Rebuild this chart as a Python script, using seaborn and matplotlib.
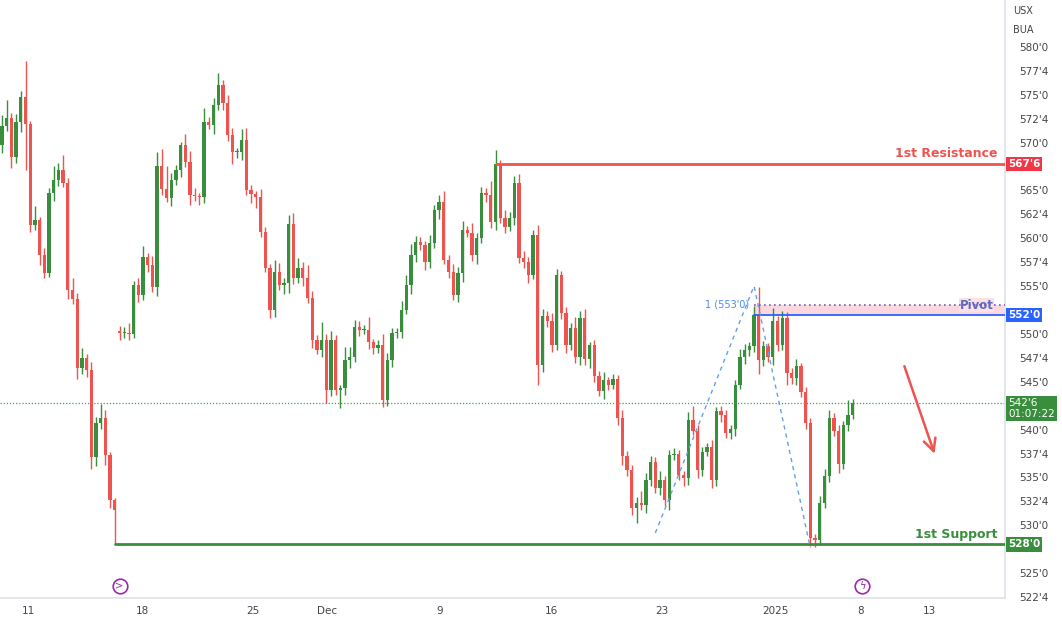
import numpy as np
import matplotlib
matplotlib.use("Agg")
import matplotlib.pyplot as plt
from matplotlib.ticker import FuncFormatter
import matplotlib.transforms as mtransforms
import seaborn as sns

sns.set_theme(style="white")

# Candle data (price), open = previous close unless a gap
first_open = 569.75
closes = [
    571.7, 572.6, 568.5, 572.1, 574.8, 571.9, 561.4, 561.9, 558.2, 556.4,
    564.7, 566.1, 567.1, 565.8, 554.6, 553.6, 546.4, 547.5, 546.2, 537.1,
    540.7, 541.2, 537.3, 532.6, 531.6, 550.1, 550.1, 550.0, 555.1, 554.1,
    558.0, 557.2, 554.9, 567.5, 565.1, 564.2, 566.1, 567.1, 569.7, 568.0,
    564.5, 564.4, 564.3, 572.1, 571.8, 573.9, 576.0, 574.1, 570.8, 569.0,
    569.0, 570.3, 565.0, 564.6, 564.3, 560.7, 556.9, 552.5, 556.5, 555.1,
    555.3, 561.5, 555.8, 556.9, 555.8, 553.8, 549.4, 548.3, 549.4, 544.1,
    549.4, 544.1, 544.3, 547.3, 547.6, 550.7, 550.4, 550.4, 549.2, 548.5,
    548.8, 543.1, 547.3, 550.1, 550.2, 552.5, 555.1, 558.2, 559.6, 559.3,
    557.5, 559.5, 562.9, 563.8, 557.7, 556.5, 554.1, 556.4, 560.9, 560.6,
    558.2, 560.0, 564.7, 564.5, 561.7, 567.8, 562.1, 561.2, 562.1, 565.8,
    557.9, 557.5, 556.2, 560.3, 546.8, 551.9, 551.3, 548.8, 556.2, 552.2,
    548.8, 550.6, 547.6, 551.7, 547.4, 548.8, 545.6, 544.0, 545.2, 544.7,
    545.3, 541.2, 537.2, 535.8, 531.8, 532.3, 532.1, 534.7, 536.6, 533.9,
    534.7, 532.6, 537.3, 537.4, 535.3, 534.9, 541.0, 539.9, 535.8, 537.7,
    538.2, 534.7, 541.9, 541.5, 539.6, 540.1, 544.7, 547.6, 548.3, 548.7,
    552.0, 547.3, 548.7, 547.6, 551.4, 548.8, 551.7, 545.9, 545.4, 546.6,
    543.9, 540.7, 528.7, 528.5, 532.3, 535.2, 541.2, 539.9, 536.4, 540.5,
    541.5, 542.75,
]
gap_opens = {25: 550.3}
upper_wick = [
    1.2, 1.8, 0.5, 0.9, 0.6, 3.7, 0.4, 1.5, 0.3, 0.8,
    0.6, 1.4, 0.8, 1.6, 0.5, 1.2, 0.7, 1.0, 0.4, 0.9,
    0.6, 1.5, 0.8, 0.4, 0.3, 0.5, 0.6, 1.0, 0.4, 0.7,
    1.2, 0.5, 0.9, 1.5, 1.8, 2.5, 0.7, 0.6, 0.4, 1.2,
    1.1, 0.8, 0.3, 1.5, 0.6, 0.8, 1.3, 0.5, 0.9, 0.7,
    0.4, 1.1, 1.2, 0.6, 0.3, 0.8, 0.5, 0.4, 1.2, 0.9,
    0.5, 0.9, 1.1, 1.0, 0.6, 1.4, 0.7, 0.5, 1.8, 0.6,
    0.9, 0.5, 0.4, 1.3, 1.0, 0.8, 0.6, 0.5, 1.4, 0.3,
    0.6, 1.2, 0.7, 0.5, 0.4, 0.9, 1.1, 1.2, 0.6, 0.5,
    0.4, 0.8, 0.6, 0.7, 1.1, 0.5, 0.8, 0.6, 0.9, 0.4,
    1.0, 0.6, 0.7, 0.5, 1.5, 1.4, 0.4, 0.8, 0.6, 0.7,
    0.9, 0.8, 0.5, 0.6, 1.1, 0.7, 0.5, 0.9, 0.6, 0.4,
    0.6, 0.5, 1.2, 0.7, 0.9, 0.4, 0.6, 0.5, 0.8, 0.3,
    0.5, 0.4, 0.9, 0.6, 0.5, 0.7, 1.3, 0.8, 0.6, 0.5,
    1.0, 0.4, 0.6, 0.7, 0.5, 0.4, 0.8, 1.5, 0.6, 0.5,
    0.4, 0.7, 0.5, 0.6, 0.6, 0.4, 0.5, 0.8, 0.6, 0.5,
    0.9, 2.9, 0.6, 0.4, 1.3, 0.5, 0.7, 0.6, 0.5, 0.8,
    0.4, 0.6, 0.5, 0.4, 0.8, 0.7, 0.9, 0.5, 0.6, 0.4,
    1.6, 0.4,
]
lower_wick = [
    0.8, 0.5, 1.2, 0.6, 1.0, 4.8, 0.7, 0.5, 1.0, 0.6,
    0.5, 0.8, 0.6, 0.4, 0.9, 0.5, 1.1, 0.6, 0.7, 1.2,
    0.9, 0.6, 1.0, 0.8, 3.6, 0.7, 0.5, 0.6, 0.4, 0.8,
    0.6, 0.7, 0.5, 0.9, 0.6, 0.4, 0.8, 0.5, 0.7, 0.6,
    1.0, 0.5, 0.8, 0.6, 0.4, 0.9, 0.5, 0.7, 0.6, 1.2,
    0.6, 0.8, 0.5, 0.9, 1.1, 0.6, 0.4, 0.8, 0.7, 0.5,
    0.9, 1.0, 0.6, 0.5, 0.8, 0.6, 0.9, 0.4, 0.7, 1.3,
    0.6, 0.5, 1.8, 0.7, 0.9, 0.5, 0.6, 0.4, 0.8, 0.6,
    0.5, 0.7, 0.6, 0.8, 0.5, 0.6, 0.4, 0.9, 0.7, 0.5,
    0.8, 0.6, 0.5, 0.9, 0.4, 0.7, 0.6, 0.8, 1.0, 0.5,
    0.6, 0.9, 0.5, 0.7, 0.6, 0.8, 0.5, 0.6, 0.4, 0.7,
    0.5, 0.6, 0.9, 0.5, 2.1, 0.8, 0.6, 0.7, 0.5, 0.6,
    0.8, 0.5, 0.6, 0.9, 0.7, 1.0, 0.6, 0.5, 0.8, 0.6,
    0.5, 0.7, 0.9, 0.6, 0.7, 1.6, 0.5, 0.8, 0.6, 0.5,
    0.7, 0.6, 1.0, 0.5, 0.6, 0.8, 0.7, 0.5, 0.9, 0.6,
    0.5, 0.8, 0.6, 0.7, 0.5, 0.6, 0.8, 0.5, 0.7, 0.6,
    0.6, 1.5, 0.7, 0.5, 0.8, 0.6, 0.5, 1.2, 0.6, 0.7,
    0.5, 0.6, 0.9, 0.8, 0.6, 0.5, 0.7, 0.6, 0.9, 0.5,
    0.6, 0.4,
]

# Levels
resistance = 567.75
pivot = 552.0
pivot_top = 553.0
support = 528.0
last_price = 542.75
resistance_start = 105
support_start = 24
pivot_start = 160

# Swing pattern (dashed)
swing_idx = [139, 160, 172]
swing_px = [529.2, 555.0, 527.6]

# Date axis
date_labels = ["11", "18", "25", "Dec", "9", "16", "23", "2025", "8", "13"]
date_pos = [5.7, 29.8, 53.4, 69.1, 93.2, 116.8, 140.4, 164.5, 182.6, 197.4]

# right-scale ticks hidden behind the price boxes
hidden_ticks = [567.5, 552.5, 542.5, 527.5]

GREEN = "#388e3c"
RED = "#ef5350"
BLUE = "#2962ff"

opens = [first_open] + closes[:-1]
for k, v in gap_opens.items():
    opens[k] = v
opens = np.array(opens)
closes_a = np.array(closes)
highs = np.maximum(opens, closes_a) + np.array(upper_wick)
lows = np.minimum(opens, closes_a) - np.array(lower_wick)
idx = np.arange(len(closes))
up = closes_a >= opens
cols = np.where(up, GREEN, RED)

fig = plt.figure(figsize=(10.62, 6.22), dpi=100)
ax = fig.add_axes([0, 1 - 598 / 622, 1005 / 1062, 598 / 622])

ax.vlines(idx, lows, highs, colors=cols, linewidth=1, zorder=2)
body_lo = np.minimum(opens, closes_a)
body_h = np.maximum(np.abs(closes_a - opens), 0.12)
ax.bar(idx, body_h, bottom=body_lo, width=0.7, color=cols, linewidth=0, zorder=3)

x_right = 213.4
ax.set_xlim(-0.43, x_right)
ax.set_ylim(522.4, 584.9)

# current price line
sns.lineplot(x=[-0.43, x_right], y=[last_price, last_price], ax=ax,
             color="#43a047", linestyle=(0, (1, 1.5)), linewidth=0.9, zorder=1)

# levels
ax.plot([resistance_start, x_right], [resistance, resistance], color=RED, lw=2, zorder=4)
ax.plot([support_start, x_right], [support, support], color=GREEN, lw=2, zorder=4)
ax.axhspan(pivot, pivot_top, xmin=(pivot_start + 0.43) / (x_right + 0.43), color="#f8c8d0", alpha=0.7, lw=0, zorder=1)
ax.plot([pivot_start, x_right], [pivot, pivot], color=BLUE, lw=1.3, zorder=4)
ax.plot([pivot_start, x_right], [pivot_top, pivot_top], color="#7e57c2", lw=1.2, ls=(0, (1, 2)), zorder=4)
ax.text(x_right - 1.5, resistance + 0.4, "1st Resistance", color=RED, fontsize=9,
        fontweight="bold", ha="right", va="bottom")
ax.text(x_right - 1.5, support + 0.4, "1st Support", color=GREEN, fontsize=9,
        fontweight="bold", ha="right", va="bottom")
ax.text(x_right - 2.5, pivot_top, "Pivot", color="#5c6bc0", fontsize=8.5,
        fontweight="bold", ha="right", va="center",
        bbox=dict(facecolor="#fbe0e5", edgecolor="none", pad=0.5))
ax.text(pivot_start - 1, pivot_top + 0.05, "1 (553'0)", color="#4a8be0", fontsize=7,
        ha="right", va="center")

sns.lineplot(x=swing_idx, y=swing_px, ax=ax, color="#64a0e8", linewidth=1,
             linestyle=(0, (3, 3)), zorder=5)

# arrow
ax.annotate("", xy=(198.6, 537.2), xytext=(191.8, 546.9),
            arrowprops=dict(arrowstyle="->", color=RED, lw=1.8, mutation_scale=22))

# axes styling
ax.yaxis.tick_right()
yt = [v for v in np.arange(522.5, 580.1, 2.5) if v not in hidden_ticks]
ax.set_yticks(yt)
ax.yaxis.set_major_formatter(FuncFormatter(lambda v, p: f"{int(v)}'{int(round((v - int(v)) * 8))}"))
ax.tick_params(axis="y", labelsize=7.5, colors="#444444", length=0, pad=10)
ax.set_xticks(date_pos)
ax.set_xticklabels(date_labels)
ax.tick_params(axis="x", labelsize=7.5, colors="#444444", length=0, pad=6)
for s in ["top", "left"]:
    ax.spines[s].set_visible(False)
ax.spines["right"].set_color("#e0e3eb")
ax.spines["bottom"].set_color("#e0e3eb")

# price boxes on the right scale
trans = mtransforms.blended_transform_factory(ax.transAxes, ax.transData)
def price_box(y, text, color):
    ax.text(1.003, y, text, transform=trans, color="white", fontsize=7.5,
            fontweight="bold", ha="left", va="center", clip_on=False,
            bbox=dict(facecolor=color, edgecolor="none", pad=1.5), zorder=10)

price_box(resistance, "567'6", "#f23645")
price_box(pivot, "552'0", BLUE)
price_box(support, "528'0", GREEN)
ax.text(1.003, last_price - 0.55, "542'6\n01:07:22", transform=trans, color="white",
        fontsize=7.5, ha="left", va="center", clip_on=False, linespacing=1.1,
        bbox=dict(facecolor=GREEN, edgecolor="none", pad=1.5), zorder=10)

fig.text(1013 / 1062, 1 - 11 / 622, "USX", fontsize=7, color="#444444", va="center")
fig.text(1013 / 1062, 1 - 30 / 622, "BUA", fontsize=7, color="#444444", va="center")

# bottom icons
for xi, sym in [(25.0, ">"), (183.0, "ϟ")]:
    ax.scatter([xi], [523.7], s=110, facecolors="white", edgecolors="#9c27b0", lw=1.2, zorder=6, clip_on=False)
    ax.text(xi, 523.7, sym, color="#9c27b0", fontsize=7, ha="center", va="center", zorder=7)

fig.savefig("out.png", dpi=100, facecolor="white")
